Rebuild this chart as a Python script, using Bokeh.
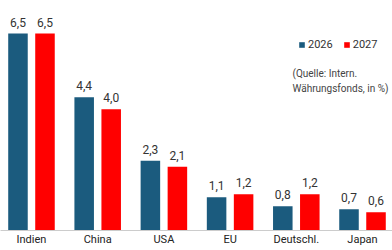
from bokeh.plotting import figure
from bokeh.models import ColumnDataSource, Range1d, FixedTicker, Legend, LegendItem, Label
from bokeh.core.properties import value
from bokeh.transform import dodge
from bokeh.embed import file_html
from bokeh.resources import INLINE

countries = ["Indien", "China", "USA", "EU", "Deutschl.", "Japan"]
v2026 = [6.5, 4.4, 2.3, 1.1, 0.8, 0.7]
v2027 = [6.5, 4.0, 2.1, 1.2, 1.2, 0.6]
series = ["2026", "2027"]
source_note = ["(Quelle: Intern.", "Währungsfonds, in %)"]

BLUE = "#1b5b7e"
RED = "#ff0000"
FONT = "Roboto"

xs = list(range(len(countries)))
src = ColumnDataSource(dict(
    x=xs, a=v2026, b=v2027,
    la=[f"{v:.1f}".replace(".", ",") for v in v2026],
    lb=[f"{v:.1f}".replace(".", ",") for v in v2027],
))

p = figure(width=392, height=250, output_backend="svg", toolbar_location=None,
           x_range=Range1d(-0.468, 5.453), y_range=Range1d(0, 7.59),
           min_border_left=0, min_border_right=0, min_border_top=0, min_border_bottom=20)

ra = p.vbar(x=dodge("x", -0.204), top="a", width=0.295, bottom=0, source=src,
            fill_color=BLUE, line_color=None)
rb = p.vbar(x=dodge("x", 0.204), top="b", width=0.295, bottom=0, source=src,
            fill_color=RED, line_color=None)

for col, lab, off in (("a", "la", -0.204), ("b", "lb", 0.204)):
    p.text(x=dodge("x", off), y=col, text=lab, source=src, text_align="center",
           text_baseline="bottom", y_offset=-7, text_font_size="12px",
           text_color="#333333", text_font=value(FONT))

p.xaxis.ticker = FixedTicker(ticks=xs)
p.xaxis.major_label_overrides = {i: c for i, c in enumerate(countries)}
p.xaxis.major_tick_line_color = None
p.xaxis.major_tick_out = 0
p.xaxis.major_tick_in = 0
p.xaxis.minor_tick_line_color = None
p.xaxis.minor_tick_out = 0
p.xaxis.axis_line_color = "#cccccc"
p.xaxis.major_label_standoff = 2
p.xaxis.major_label_text_font = FONT
p.xaxis.major_label_text_font_size = "11px"
p.xaxis.major_label_text_color = "#222222"
p.yaxis.visible = False
p.xgrid.visible = False
p.ygrid.visible = False
p.outline_line_color = None

legend = Legend(items=[LegendItem(label=series[0], renderers=[ra]),
                       LegendItem(label=series[1], renderers=[rb])],
                orientation="horizontal", location=(298, 179),
                glyph_width=7, glyph_height=7, label_height=10, label_standoff=3,
                spacing=10, padding=0, margin=0, border_line_color=None,
                background_fill_alpha=0, label_text_font=FONT,
                label_text_font_size="11px", label_text_color="#333333")
p.add_layout(legend, "center")

for i, t in enumerate(source_note):
    p.add_layout(Label(x=292, y=157 - 15 * i, x_units="screen", y_units="screen",
                       text=t, text_baseline="middle", text_font=FONT,
                       text_font_size="10px", text_color="#444444"))

open("out.html", "w").write(file_html(p, INLINE))
